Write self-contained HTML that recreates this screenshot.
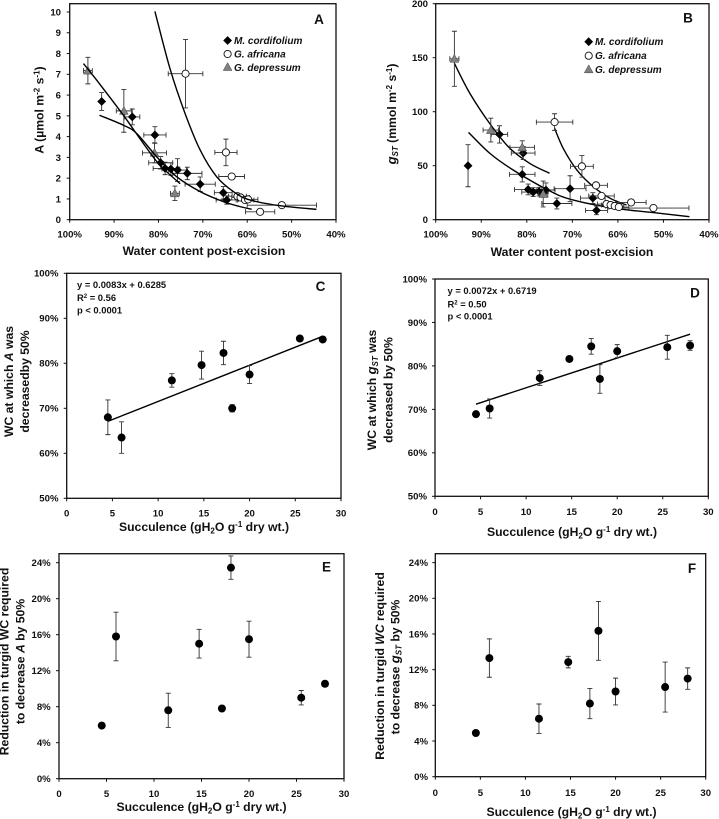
<!DOCTYPE html>
<html lang="en">
<head>
<meta charset="utf-8">
<title>Water content and succulence charts</title>
<style>
html,body{margin:0;padding:0;background:#fff;width:719px;height:819px;overflow:hidden}
svg{display:block;filter:blur(0.35px)}
text{font-family:"Liberation Sans",sans-serif;font-weight:bold;fill:#111}
.tick{font-size:9.6px}
.title{font-size:12.2px}
.legend{font-size:10px;font-style:italic}
.letter{font-size:13.5px}
.stat{font-size:9.4px}
</style>
</head>
<body>
<svg id="chart" xmlns="http://www.w3.org/2000/svg" width="719" height="819" viewBox="0 0 719 819">
<g id="marks"></g>

<g>
<text class="letter" x="319" y="24" text-anchor="middle">A</text>
<text class="title" x="204" y="255" text-anchor="middle">Water content post-excision</text>
<text class="title" transform="translate(43.5,110) rotate(-90)" text-anchor="middle">A (µmol m<tspan dy="-4" font-size="8">-2</tspan><tspan dy="4"> s</tspan><tspan dy="-4" font-size="8">-1</tspan><tspan dy="4">)</tspan></text>
<text class="legend" x="234" y="44">M. cordifolium</text>
<text class="legend" x="234" y="57.5">G. africana</text>
<text class="legend" x="234" y="71">G. depressum</text>
</g>

<g>
<text class="letter" x="688" y="22.5" text-anchor="middle">B</text>
<text class="title" x="572" y="256" text-anchor="middle">Water content post-excision</text>
<text class="title" transform="translate(396,114) rotate(-90)" text-anchor="middle"><tspan font-style="italic" font-size="13">g</tspan><tspan font-style="italic" font-size="8" dy="2">ST</tspan><tspan dy="-2">  (mmol m</tspan><tspan dy="-4" font-size="8">-2</tspan><tspan dy="4"> s</tspan><tspan dy="-4" font-size="8">-1</tspan><tspan dy="4">)</tspan></text>
<text class="legend" x="595" y="45">M. cordifolium</text>
<text class="legend" x="595" y="59">G. africana</text>
<text class="legend" x="595" y="73">G. depressum</text>
</g>

<g>
<text class="letter" x="320.5" y="291" text-anchor="middle">C</text>
<text class="stat" x="77" y="288">y = 0.0083x + 0.6285</text>
<text class="stat" x="77" y="301">R<tspan dy="-3" font-size="6">2</tspan><tspan dy="3"> = 0.56</tspan></text>
<text class="stat" x="77" y="313.5">p &lt; 0.0001</text>
<text class="title" x="204" y="531" text-anchor="middle">Succulence (gH<tspan dy="2.5" font-size="8">2</tspan><tspan dy="-2.5">O g</tspan><tspan dy="-4" font-size="8">-1</tspan><tspan dy="4"> dry wt.)</tspan></text>
<text class="title" transform="translate(13,381.5) rotate(-90)" text-anchor="middle">WC at which <tspan font-style="italic">A</tspan> was</text>
<text class="title" transform="translate(29,381.5) rotate(-90)" text-anchor="middle">decreasedby 50%</text>
</g>

<g>
<text class="letter" x="695" y="297.5" text-anchor="middle">D</text>
<text class="stat" x="447.5" y="294">y = 0.0072x + 0.6719</text>
<text class="stat" x="447.5" y="307.5">R<tspan dy="-3" font-size="6">2</tspan><tspan dy="3"> = 0.50</tspan></text>
<text class="stat" x="447.5" y="319.5">p &lt; 0.0001</text>
<text class="title" x="572" y="536" text-anchor="middle">Succulence (gH<tspan dy="2.5" font-size="8">2</tspan><tspan dy="-2.5">O g</tspan><tspan dy="-4" font-size="8">-1</tspan><tspan dy="4"> dry wt.)</tspan></text>
<text class="title" transform="translate(376,390) rotate(-90)" text-anchor="middle">WC at which <tspan font-style="italic" font-size="13">g</tspan><tspan font-style="italic" font-size="8" dy="2">ST</tspan><tspan dy="-2"> was</tspan></text>
<text class="title" transform="translate(392.5,390) rotate(-90)" text-anchor="middle">decreased by 50%</text>
</g>

<g>
<text class="letter" x="326.5" y="571.5" text-anchor="middle">E</text>
<text class="title" x="201.5" y="811" text-anchor="middle">Succulence (gH<tspan dy="2.5" font-size="8">2</tspan><tspan dy="-2.5">O g</tspan><tspan dy="-4" font-size="8">-1</tspan><tspan dy="4"> dry wt.)</tspan></text>
<text class="title" transform="translate(8.5,661.5) rotate(-90)" text-anchor="middle">Reduction in turgid WC required</text>
<text class="title" transform="translate(24.5,661.5) rotate(-90)" text-anchor="middle">to decrease <tspan font-style="italic">A</tspan>  by 50%</text>
</g>

<g>
<text class="letter" x="692" y="573" text-anchor="middle">F</text>
<text class="title" x="571.5" y="816" text-anchor="middle">Succulence (gH<tspan dy="2.5" font-size="8">2</tspan><tspan dy="-2.5">O g</tspan><tspan dy="-4" font-size="8">-1</tspan><tspan dy="4"> dry wt.)</tspan></text>
<text class="title" transform="translate(384,666) rotate(-90)" text-anchor="middle">Reduction in turgid <tspan font-style="italic">WC</tspan>  required</text>
<text class="title" transform="translate(399.5,667) rotate(-90)" text-anchor="middle">to decrease <tspan font-style="italic" font-size="13">g</tspan><tspan font-style="italic" font-size="8" dy="2">ST</tspan><tspan dy="-2"> by 50%</tspan></text>
</g>
</svg>

<script>
// ---------- shared tick values and labels ----------
const wcTicks = [100, 90, 80, 70, 60, 50, 40];
const wcTickLabels = ['100%', '90%', '80%', '70%', '60%', '50%', '40%'];
const succTicks = [0, 5, 10, 15, 20, 25, 30];
const succTickLabels = ['0', '5', '10', '15', '20', '25', '30'];
const aTicks = [0, 1, 2, 3, 4, 5, 6, 7, 8, 9, 10];
const aTickLabels = ['0', '1', '2', '3', '4', '5', '6', '7', '8', '9', '10'];
const gTicks = [0, 50, 100, 150, 200];
const gTickLabels = ['0', '50', '100', '150', '200'];
const pctTicks = [50, 60, 70, 80, 90, 100];
const pctTickLabels = ['50%', '60%', '70%', '80%', '90%', '100%'];
const redTicks = [0, 4, 8, 12, 16, 20, 24];
const redTickLabels = ['0%', '4%', '8%', '12%', '16%', '20%', '24%'];

// ---------- panel A ----------
const aCordWC = [92.8, 85.9, 80.8, 79.5, 78.5, 77.2, 75.7, 73.5, 70.6, 65.4, 64.6];
const aCordWCErr = [0, 1.7, 2.5, 2.7, 2.7, 2, 2, 3.3, 3.4, 2, 2.4];
const aCordVal = [5.69, 4.95, 4.08, 2.74, 2.47, 2.44, 2.39, 2.23, 1.71, 1.3, 0.95];
const aCordValErr = [0.43, 0.38, 0.4, 0.3, 0.3, 0.3, 0.55, 0.3, 0.35, 0.3, 0.2];

const aAfrWC = [73.9, 64.8, 63.5, 62.2, 61.5, 60.5, 59.8, 57.1, 52.2];
const aAfrWCErr = [3.9, 2.5, 2.9, 2, 2, 2, 2.2, 3.3, 7.8];
const aAfrVal = [7.03, 3.24, 2.08, 1.13, 1.07, 0.95, 0.98, 0.38, 0.7];
const aAfrValErr = [1.65, 0.64, 0, 0, 0, 0, 0, 0, 0];

const aDepWC = [95.9, 87.8, 80.9, 76.3];
const aDepWCErr = [1, 1.7, 2.7, 1];
const aDepVal = [7.18, 5.24, 3.22, 1.27];
const aDepValErr = [0.64, 1.03, 0.48, 0.35];

const aCurveAfrWC = [80.8, 77.4, 74, 70.6, 66.9, 63.1, 59.4, 52.2, 44.4];
const aCurveAfrVal = [10.03, 7.27, 5.11, 3.35, 2.07, 1.35, 0.95, 0.66, 0.5];
const aCurveDepWC = [96.9, 93.2, 87.9, 83.4, 79.7, 75.1];
const aCurveDepVal = [7.52, 6.52, 5.03, 3.67, 2.63, 1.73];
const aCurveCordWC = [93.3, 87.9, 84.9, 80.4, 75.9, 70.6, 65.4, 61.6, 59];
const aCurveCordVal = [5.03, 4.55, 4.15, 3.03, 2.07, 1.35, 0.87, 0.63, 0.5];

// ---------- panel B ----------
const bCordWC = [92.9, 86, 80.8, 81, 79.7, 78.6, 77.3, 75.8, 73.4, 70.5, 65.5, 64.7];
const bCordWCErr = [0, 1.8, 2.6, 2.8, 3, 2.5, 2, 2, 3.3, 3.5, 2.7, 2.4];
const bCordVal = [50, 79, 61.7, 42, 28, 25.6, 26, 27.5, 15, 28.7, 20, 8.6];
const bCordValErr = [19.5, 8, 6, 7, 5, 4, 4, 6.5, 5, 12, 5, 4];

const bAfrWC = [73.9, 67.9, 64.8, 63.6, 62.5, 61.6, 60.7, 59.8, 57.1, 52.2];
const bAfrWCErr = [4, 2.5, 2.5, 2.8, 2, 2, 2, 2.2, 3.3, 7.8];
const bAfrVal = [90.4, 49.4, 31.8, 22, 14.5, 13.6, 12.7, 11.7, 16, 10.8];
const bAfrValErr = [7.7, 10, 0, 0, 0, 0, 0, 0, 2, 0];

const bDepWC = [95.9, 87.9, 81, 76.4];
const bDepWCErr = [1, 1.7, 2.7, 1];
const bDepVal = [149, 83, 67, 23.8];
const bDepValErr = [25.5, 11, 6, 12];

const bCurveDepWC = [95.9, 92.5, 87.9, 83.7, 79.3, 75];
const bCurveDepVal = [144.8, 117, 87.7, 66, 52, 43];
const bCurveCordWC = [92.8, 88.1, 83, 75.6, 70.5, 61, 50.8, 44.3];
const bCurveCordVal = [80.9, 61.4, 46, 28, 19, 10.8, 5.9, 2.8];
const bCurveAfrWC = [73.9, 72, 69, 65.4, 61.7, 58.1];
const bCurveAfrVal = [84.6, 66, 46, 30.6, 19.8, 13.6];

// ---------- panels C-F ----------
const succulence = [4.5, 6, 11.5, 14.75, 17.15, 18.1, 20, 25.5, 28];

const cVal = [68, 63.5, 76.2, 79.6, 82.3, 70, 77.5, 85.5, 85.3];
const cErr = [3.85, 3.5, 1.5, 3.1, 2.6, 0.8, 2, 0, 0];
const cFitX = [4.5, 28];
const cFitY = [67.1, 86];

const dVal = [68.9, 70.2, 77.2, 81.6, 84.5, 77, 83.4, 84.3, 84.7];
const dErr = [0, 2.2, 1.7, 0, 1.8, 3.3, 1.5, 2.75, 1.1];
const dFitX = [4.5, 28];
const dFitY = [71.2, 87.3];

const eVal = [5.9, 15.8, 7.6, 15, 7.8, 23.45, 15.5, 9, 10.55];
const eErr = [0, 2.7, 1.9, 1.6, 0, 1.3, 2, 0.8, 0];

const fVal = [4.9, 13.3, 6.5, 12.85, 8.2, 16.35, 9.55, 10.05, 11];
const fErr = [0, 2.15, 1.65, 0.65, 1.7, 3.3, 1.5, 2.8, 1.2];

// ---------- drawing ----------
const SVGNS = 'http://www.w3.org/2000/svg';
const root = document.getElementById('marks');

function make(tag, attrs, name, parent) {
  const el = document.createElementNS(SVGNS, tag);
  
  
  for (const k in attrs) el.setAttribute(k, attrs[k]);
  (parent || root).appendChild(el);
  return el;
}

function scale(d0, d1, r0, r1) {
  return v => r0 + (v - d0) / (d1 - d0) * (r1 - r0);
}

function drawAxes(p) {
  const g = make('g', {}, 'panel-' + p.id + '-axes');
  make('rect', {x: p.left, y: p.top, width: p.right - p.left, height: p.bottom - p.top, fill: 'none', stroke: '#111', 'stroke-width': 1.3}, 'panel-' + p.id + '-frame', g);
  p.xTicks.forEach((t, i) => {
    const x = p.sx(t);
    make('line', {x1: x, x2: x, y1: p.bottom, y2: p.bottom + 3, stroke: '#111', 'stroke-width': 1}, 'panel-' + p.id + '-x-tick', g);
    const lab = make('text', {x: x, y: p.xLabelY, 'text-anchor': 'middle', class: 'tick'}, 'panel-' + p.id + '-x-tick-label', g);
    lab.textContent = p.xLabels[i];
  });
  p.yTicks.forEach((t, i) => {
    const y = p.sy(t);
    make('line', {x1: p.left - 3, x2: p.left, y1: y, y2: y, stroke: '#111', 'stroke-width': 1}, 'panel-' + p.id + '-y-tick', g);
    const lab = make('text', {x: p.yLabelX, y: y + 3.4, 'text-anchor': 'end', class: 'tick'}, 'panel-' + p.id + '-y-tick-label', g);
    lab.textContent = p.yLabels[i];
  });
}

function drawMarker(kind, x, y, name, parent) {
  if (kind === 'diamond') {
    const r = 4.4;
    make('path', {d: 'M' + x + ' ' + (y - r) + 'L' + (x + r) + ' ' + y + 'L' + x + ' ' + (y + r) + 'L' + (x - r) + ' ' + y + 'Z', fill: '#000'}, name, parent);
  } else if (kind === 'open') {
    make('circle', {cx: x, cy: y, r: 3.6, fill: '#fff', stroke: '#111', 'stroke-width': 0.9}, name, parent);
  } else if (kind === 'triangle') {
    const r = 4.4;
    make('path', {d: 'M' + x + ' ' + (y - r) + 'L' + (x + r) + ' ' + (y + r * 0.8) + 'L' + (x - r) + ' ' + (y + r * 0.8) + 'Z', fill: '#808080', stroke: '#444', 'stroke-width': 0.5}, name, parent);
  } else {
    make('circle', {cx: x, cy: y, r: 4, fill: '#000'}, name, parent);
  }
}

function drawErrors(p, xs, ys, xe, ye, label, parent) {
  const cap = 2.5;
  xs.forEach((v, i) => {
    const x = p.sx(v), y = p.sy(ys[i]);
    let d = '';
    if (ye && ye[i] > 0) {
      const y1 = p.sy(ys[i] - ye[i]), y2 = p.sy(ys[i] + ye[i]);
      d += 'M' + x + ' ' + y1 + 'V' + y2 + 'M' + (x - cap) + ' ' + y1 + 'H' + (x + cap) + 'M' + (x - cap) + ' ' + y2 + 'H' + (x + cap);
    }
    if (xe && xe[i] > 0) {
      const x1 = p.sx(v - xe[i]), x2 = p.sx(v + xe[i]);
      d += 'M' + x1 + ' ' + y + 'H' + x2 + 'M' + x1 + ' ' + (y - cap) + 'V' + (y + cap) + 'M' + x2 + ' ' + (y - cap) + 'V' + (y + cap);
    }
    if (d) make('path', {d: d, fill: 'none', stroke: '#333', 'stroke-width': 0.9}, label + '-error-bar', parent);
  });
}

function drawSeries(p, kind, xs, ys, xe, ye, label) {
  const g = make('g', {}, 'panel-' + p.id + '-' + label + '-series');
  drawErrors(p, xs, ys, xe, ye, label, g);
  xs.forEach((v, i) => drawMarker(kind, p.sx(v), p.sy(ys[i]), label + '-point', g));
}

function drawCurve(p, xs, ys, label) {
  const pts = xs.map((v, i) => [p.sx(v), p.sy(ys[i])]);
  let d = 'M' + pts[0][0] + ' ' + pts[0][1];
  for (let i = 0; i < pts.length - 1; i++) {
    const a = pts[Math.max(i - 1, 0)], b = pts[i], c = pts[i + 1], e = pts[Math.min(i + 2, pts.length - 1)];
    d += 'C' + (b[0] + (c[0] - a[0]) / 6) + ' ' + (b[1] + (c[1] - a[1]) / 6) + ' ' +
      (c[0] - (e[0] - b[0]) / 6) + ' ' + (c[1] - (e[1] - b[1]) / 6) + ' ' + c[0] + ' ' + c[1];
  }
  make('path', {d: d, fill: 'none', stroke: '#000', 'stroke-width': 1.4}, 'panel-' + p.id + '-' + label + '-curve');
}

function panel(id, left, right, top, bottom, xD, yD, xTicks, xLabels, yTicks, yLabels, xLabelY, yLabelX) {
  return {
    id, left, right, top, bottom, xTicks, xLabels, yTicks, yLabels, xLabelY, yLabelX,
    sx: scale(xD[0], xD[1], left, right),
    sy: scale(yD[0], yD[1], bottom, top)
  };
}

const pA = panel('a', 69.7, 336, 3.7, 219.7, [100, 40], [0, 10.4], wcTicks, wcTickLabels, aTicks, aTickLabels, 237.5, 61);
const pB = panel('b', 435.7, 709, 3.7, 219.7, [100, 40], [0, 200], wcTicks, wcTickLabels, gTicks, gTickLabels, 237.5, 428);
const pC = panel('c', 66.7, 341, 273.3, 498.3, [0, 30], [50, 100], succTicks, succTickLabels, pctTicks, pctTickLabels, 516.5, 58.5);
const pD = panel('d', 435, 708.3, 279, 496.3, [0, 30], [50, 100], succTicks, succTickLabels, pctTicks, pctTickLabels, 515, 427);
const pE = panel('e', 59, 344, 553.7, 778.7, [0, 30], [0, 25], succTicks, succTickLabels, redTicks, redTickLabels, 796.8, 50.7);
const pF = panel('f', 435.3, 705.7, 553.7, 776.7, [0, 30], [0, 25], succTicks, succTickLabels, redTicks, redTickLabels, 795.8, 428);

[pA, pB, pC, pD, pE, pF].forEach(drawAxes);

drawSeries(pA, 'diamond', aCordWC, aCordVal, aCordWCErr, aCordValErr, 'm-cordifolium');
drawSeries(pA, 'open', aAfrWC, aAfrVal, aAfrWCErr, aAfrValErr, 'g-africana');
drawSeries(pA, 'triangle', aDepWC, aDepVal, aDepWCErr, aDepValErr, 'g-depressum');
drawCurve(pA, aCurveAfrWC, aCurveAfrVal, 'g-africana');
drawCurve(pA, aCurveDepWC, aCurveDepVal, 'g-depressum');
drawCurve(pA, aCurveCordWC, aCurveCordVal, 'm-cordifolium');

drawCurve(pB, bCurveAfrWC, bCurveAfrVal, 'g-africana');
drawCurve(pB, bCurveDepWC, bCurveDepVal, 'g-depressum');
drawCurve(pB, bCurveCordWC, bCurveCordVal, 'm-cordifolium');
drawSeries(pB, 'diamond', bCordWC, bCordVal, bCordWCErr, bCordValErr, 'm-cordifolium');
drawSeries(pB, 'open', bAfrWC, bAfrVal, bAfrWCErr, bAfrValErr, 'g-africana');
drawSeries(pB, 'triangle', bDepWC, bDepVal, bDepWCErr, bDepValErr, 'g-depressum');

drawCurve(pC, cFitX, cFitY, 'regression');
drawSeries(pC, 'dot', succulence, cVal, null, cErr, 'species');
drawCurve(pD, dFitX, dFitY, 'regression');
drawSeries(pD, 'dot', succulence, dVal, null, dErr, 'species');
drawSeries(pE, 'dot', succulence, eVal, null, eErr, 'species');
drawSeries(pF, 'dot', succulence, fVal, null, fErr, 'species');

// legend markers
drawMarker('diamond', 227.6, 40.5, 'legend-a-m-cordifolium-marker');
drawMarker('open', 227.6, 54, 'legend-a-g-africana-marker');
drawMarker('triangle', 227.6, 67, 'legend-a-g-depressum-marker');
drawMarker('diamond', 588.7, 41.7, 'legend-b-m-cordifolium-marker');
drawMarker('open', 588.7, 55.7, 'legend-b-g-africana-marker');
drawMarker('triangle', 588.7, 69.3, 'legend-b-g-depressum-marker');
</script>
</body>
</html>
